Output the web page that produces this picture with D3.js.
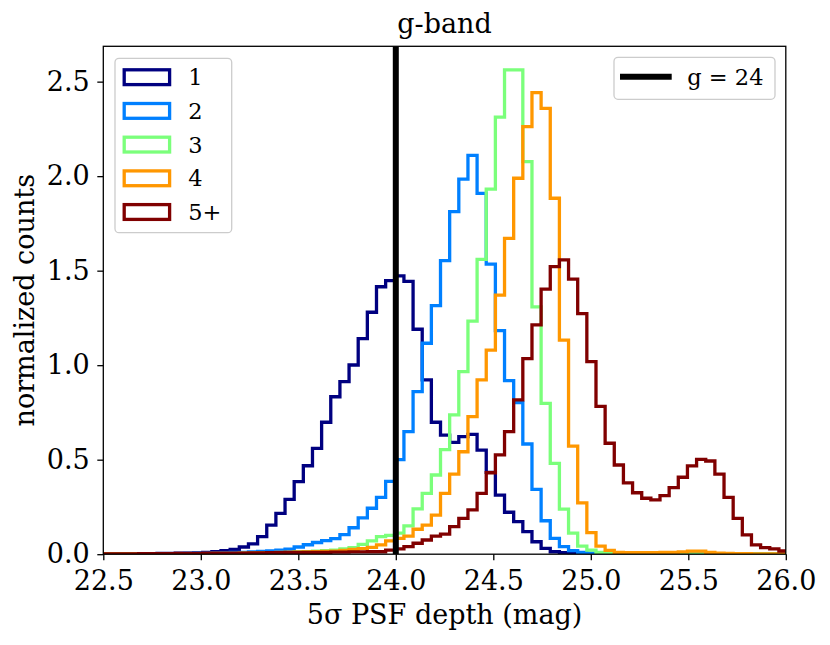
<!DOCTYPE html>
<html>
<head>
<meta charset="utf-8">
<script src="https://cdn.jsdelivr.net/npm/d3@7"></script>
<style>
  body { margin: 0; background: #fff; }
  text { font-family: "DejaVu Serif", serif; fill: #000; }
</style>
</head>
<body>
<svg id="chart" width="830" height="645"></svg>
<script>
// histogram bins (mag)
var binStart = 22.494,
    binWidth = 0.0469;

var seriesNames = ["1", "2", "3", "4", "5+"];
var seriesColors = ["#000080", "#0080ff", "#7bff7b", "#ff9700", "#800000"];

// normalized counts per bin, one array per number of exposures
var counts1 = [0.002,0.002,0.002,0.003,0.003,0.003,0.004,0.004,0.005,0.006,
  0.007,0.010,0.014,0.019,0.026,0.038,0.055,0.093,0.154,0.216,
  0.290,0.384,0.468,0.560,0.698,0.833,0.913,1.001,1.140,1.280,
  1.415,1.447,1.472,1.443,1.190,0.922,0.698,0.630,0.592,0.622,
  0.634,0.551,0.433,0.313,0.222,0.172,0.119,0.066,0.031,0.013,
  0.008,0.004,0.003,0.002,0.002,0.002,0.001,0.001,0.001,0.001,
  0.001,0.001,0.001,0.001,0.001,0.001,0.001,0,0,0,
  0,0,0,0,0];
var counts2 = [0.001,0.001,0.001,0.001,0.002,0.002,0.002,0.003,0.003,0.004,
  0.005,0.006,0.007,0.008,0.009,0.010,0.012,0.015,0.018,0.022,
  0.027,0.038,0.050,0.062,0.072,0.082,0.104,0.140,0.192,0.243,
  0.301,0.385,0.500,0.648,0.860,1.116,1.315,1.553,1.812,1.984,
  2.110,1.909,1.535,1.183,0.918,0.802,0.583,0.343,0.177,0.084,
  0.040,0.019,0.010,0.005,0.003,0.002,0.002,0.001,0.001,0.001,
  0.001,0.001,0.001,0.001,0.001,0.001,0.001,0,0,0,
  0,0,0,0,0];
var counts3 = [0.001,0.001,0.001,0.001,0.001,0.001,0.001,0.001,0.002,0.002,
  0.002,0.002,0.003,0.003,0.003,0.004,0.005,0.006,0.007,0.008,
  0.010,0.012,0.014,0.016,0.019,0.022,0.028,0.035,0.052,0.070,
  0.093,0.100,0.112,0.150,0.240,0.322,0.419,0.553,0.737,0.966,
  1.233,1.560,1.931,2.312,2.562,2.562,2.077,1.308,0.798,0.481,
  0.238,0.111,0.043,0.022,0.010,0.006,0.004,0.003,0.003,0.002,
  0.002,0.002,0.002,0.002,0.002,0.002,0.001,0.001,0.001,0.001,
  0.001,0.001,0.001,0.001,0.001];
var counts4 = [0.001,0.001,0.001,0.001,0.002,0.002,0.002,0.002,0.003,0.003,
  0.003,0.003,0.004,0.004,0.004,0.005,0.006,0.007,0.008,0.009,
  0.010,0.011,0.012,0.013,0.015,0.016,0.020,0.026,0.030,0.036,
  0.049,0.070,0.084,0.096,0.132,0.154,0.207,0.322,0.424,0.542,
  0.728,0.922,1.080,1.371,1.671,1.989,2.262,2.442,2.359,1.883,
  1.133,0.572,0.272,0.114,0.043,0.020,0.010,0.008,0.008,0.008,
  0.008,0.009,0.009,0.012,0.016,0.016,0.010,0.005,0.004,0.003,
  0.003,0.002,0.002,0.002,0.002];
var counts5 = [0.002,0.002,0.002,0.002,0.003,0.003,0.003,0.003,0.004,0.004,
  0.004,0.005,0.005,0.005,0.006,0.006,0.007,0.007,0.008,0.008,
  0.009,0.009,0.010,0.010,0.010,0.011,0.011,0.012,0.012,0.013,
  0.013,0.022,0.028,0.040,0.058,0.075,0.096,0.106,0.146,0.190,
  0.234,0.322,0.431,0.525,0.648,0.816,1.035,1.213,1.402,1.521,
  1.557,1.455,1.273,1.019,0.782,0.587,0.472,0.377,0.325,0.296,
  0.287,0.310,0.352,0.407,0.467,0.502,0.493,0.424,0.301,0.190,
  0.102,0.049,0.035,0.028,0.017];

var xTicks = [22.5, 23.0, 23.5, 24.0, 24.5, 25.0, 25.5, 26.0];
var yTicks = [0.0, 0.5, 1.0, 1.5, 2.0, 2.5];
var xDomain = [22.5, 26.0],
    yDomain = [0, 2.687];
var refMag = 24;

var allCounts = [counts1, counts2, counts3, counts4, counts5];

var box = {left: 103.3, right: 785.8, top: 46.3, bottom: 554.2};

var svg = d3.select("#chart");
svg.append("rect").attr("width", 830).attr("height", 645).attr("fill", "#fff");

var x = d3.scaleLinear().domain(xDomain).range([box.left, box.right]);
var y = d3.scaleLinear().domain(yDomain).range([box.bottom, box.top]);

svg.append("clipPath").attr("id", "plotclip")
  .append("rect")
  .attr("x", box.left).attr("y", box.top)
  .attr("width", box.right - box.left)
  .attr("height", box.bottom - box.top);

// step outline like histtype='step'
function stepPoints(vals) {
  var pts = [[binStart, 0]];
  vals.forEach(function(v, i) {
    var e0 = binStart + i * binWidth;
    pts.push([e0, v]);
    pts.push([e0 + binWidth, v]);
  });
  pts.push([binStart + vals.length * binWidth, 0]);
  return pts;
}

var line = d3.line()
  .x(function(d) { return x(d[0]); })
  .y(function(d) { return y(d[1]); });

var plot = svg.append("g").attr("clip-path", "url(#plotclip)");

plot.selectAll(".hist")
  .data(allCounts)
  .enter()
  .append("path")
  .attr("class", "hist")
  .attr("d", function(d) { return line(stepPoints(d)); })
  .attr("fill", "none")
  .attr("stroke", function(d, i) { return seriesColors[i]; })
  .attr("stroke-width", 3.3)
  .attr("stroke-linejoin", "miter");

// g = 24 line
plot.append("line")
  .attr("x1", x(refMag)).attr("x2", x(refMag))
  .attr("y1", box.top).attr("y2", box.bottom)
  .attr("stroke", "#000")
  .attr("stroke-width", 6);

// axes
var xAxis = d3.axisBottom(x).tickValues(xTicks).tickSize(6).tickPadding(10.5)
  .tickFormat(d3.format(".1f"));
var yAxis = d3.axisLeft(y).tickValues(yTicks).tickSize(6).tickPadding(7.5)
  .tickFormat(d3.format(".1f"));

var gx = svg.append("g").attr("transform", "translate(0," + box.bottom + ")").call(xAxis);
var gy = svg.append("g").attr("transform", "translate(" + box.left + ",0)").call(yAxis);

[gx, gy].forEach(function(g) {
  g.select(".domain").remove();
  g.selectAll(".tick line").attr("stroke", "#000").attr("stroke-width", 1.3);
  g.selectAll(".tick text")
    .style("font-family", "DejaVu Serif")
    .style("font-size", "27px")
    .attr("fill", "#000");
});

svg.append("rect")
  .attr("x", box.left).attr("y", box.top)
  .attr("width", box.right - box.left)
  .attr("height", box.bottom - box.top)
  .attr("fill", "none")
  .attr("stroke", "#000")
  .attr("stroke-width", 1.3);

// labels
svg.append("text")
  .attr("x", (box.left + box.right) / 2)
  .attr("y", 624)
  .attr("text-anchor", "middle")
  .style("font-size", "27px")
  .text("5σ PSF depth (mag)");

svg.append("text")
  .attr("transform", "translate(34," + ((box.top + box.bottom) / 2) + ") rotate(-90)")
  .attr("text-anchor", "middle")
  .style("font-size", "27px")
  .text("normalized counts");

svg.append("text")
  .attr("x", (box.left + box.right) / 2)
  .attr("y", 33)
  .attr("text-anchor", "middle")
  .style("font-size", "27px")
  .text("g-band");

// legend: multiplicity
var leg = svg.append("g");
leg.append("rect")
  .attr("x", 115).attr("y", 58.3)
  .attr("width", 116.7).attr("height", 174.4)
  .attr("rx", 4)
  .attr("fill", "#fff").attr("fill-opacity", 0.8)
  .attr("stroke", "#cccccc").attr("stroke-width", 1.3);

var items = leg.selectAll(".item")
  .data(seriesNames)
  .enter()
  .append("g")
  .attr("class", "item")
  .attr("transform", function(d, i) { return "translate(0," + (77.2 + i * 33.7) + ")"; });

items.append("rect")
  .attr("x", 124.2).attr("y", -7.4)
  .attr("width", 45.4).attr("height", 14.8)
  .attr("fill", "none")
  .attr("stroke", function(d, i) { return seriesColors[i]; })
  .attr("stroke-width", 3.3);

items.append("text")
  .attr("x", 188.3).attr("y", 8)
  .style("font-size", "22.5px")
  .text(function(d) { return d; });

// legend: reference line
var leg2 = svg.append("g");
leg2.append("rect")
  .attr("x", 614).attr("y", 57.3)
  .attr("width", 161).attr("height", 42)
  .attr("rx", 4)
  .attr("fill", "#fff").attr("fill-opacity", 0.8)
  .attr("stroke", "#cccccc").attr("stroke-width", 1.3);
leg2.append("line")
  .attr("x1", 620).attr("x2", 671.7)
  .attr("y1", 76.7).attr("y2", 76.7)
  .attr("stroke", "#000").attr("stroke-width", 6);
leg2.append("text")
  .attr("x", 687.3).attr("y", 85)
  .style("font-size", "22.5px")
  .text("g = " + refMag);
</script>
</body>
</html>
